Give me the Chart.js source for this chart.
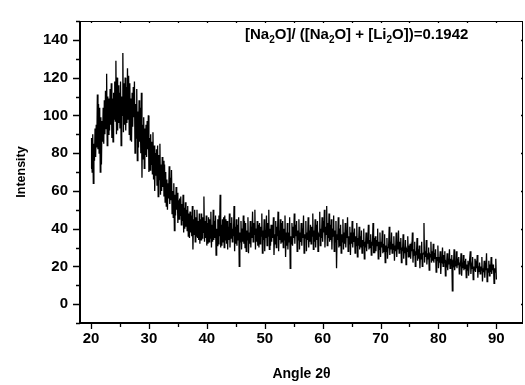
<!DOCTYPE html>
<html>
<head>
<meta charset="utf-8">
<script src="https://cdn.jsdelivr.net/npm/chart.js@4"></script>
<style>
  body { margin: 0; background: #fff; }
  #wrap { width: 525px; height: 385px; }
</style>
</head>
<body>
<div id="wrap"><canvas id="xrdChart" width="525" height="385"></canvas></div>
<script>
// scan grid: 20..90 deg, 0.1 deg step
const angleStart = 20;
const angleStep = 0.1;

// intensity, one row per degree
const intensity = [
  72, 88, 70, 90, 64, 85, 76, 93, 78, 95,
  83, 111, 82, 106, 80, 104, 70, 99, 74, 97,
  86, 104, 85, 108, 90, 113, 93, 122, 84, 110,
  90, 109, 92, 114, 95, 117, 88, 109, 86, 112,
  98, 118, 97, 129, 90, 120, 92, 116, 96, 112,
  93, 118, 84, 110, 100, 133, 91, 117, 95, 120,
  92, 115, 96, 125, 98, 121, 90, 117, 87, 109,
  86, 112, 94, 115, 99, 118, 80, 106, 88, 114,
  76, 102, 83, 108, 86, 104, 80, 112, 67, 95,
  77, 99, 72, 93, 79, 95, 78, 97, 82, 100,
  70, 88, 71, 90, 74, 86, 69, 91, 66, 84,
  60, 80, 68, 82, 63, 84, 57, 79, 66, 85,
  58, 74, 60, 78, 62, 76, 57, 74, 54, 70,
  52, 66, 50, 64, 56, 73, 53, 67, 55, 71,
  48, 60, 46, 64, 39, 58, 47, 62, 50, 59,
  43, 55, 45, 56, 47, 57, 42, 53, 44, 58,
  38, 51, 40, 54, 41, 50, 39, 52, 36, 48,
  35, 49, 38, 47, 36, 52, 29, 45, 37, 50,
  33, 46, 36, 50, 35, 44, 34, 48, 32, 45,
  34, 48, 35, 46, 38, 57, 33, 44, 35, 47,
  31, 43, 32, 46, 33, 45, 35, 49, 30, 42,
  33, 50, 34, 44, 35, 47, 26, 40, 31, 45,
  32, 47, 36, 58, 30, 42, 31, 45, 33, 46,
  30, 47, 34, 45, 32, 44, 29, 41, 34, 48,
  30, 43, 35, 46, 33, 40, 36, 52, 28, 41,
  32, 45, 31, 42, 34, 46, 20, 38, 33, 44,
  29, 40, 33, 47, 32, 44, 30, 43, 28, 39,
  34, 46, 27, 38, 32, 44, 30, 41, 35, 49,
  33, 43, 37, 50, 29, 40, 33, 44, 31, 42,
  30, 43, 32, 41, 36, 48, 27, 39, 34, 45,
  28, 39, 35, 47, 31, 43, 36, 50, 29, 40,
  31, 42, 33, 42, 35, 46, 26, 37, 32, 44,
  30, 41, 36, 49, 28, 39, 34, 45, 32, 43,
  33, 44, 30, 40, 34, 47, 25, 38, 31, 43,
  29, 38, 33, 46, 19, 36, 32, 43, 31, 41,
  35, 48, 32, 42, 36, 44, 28, 39, 34, 45,
  29, 38, 33, 43, 31, 40, 35, 47, 27, 37,
  35, 44, 28, 38, 34, 46, 30, 39, 33, 42,
  32, 41, 36, 48, 29, 39, 33, 45, 30, 42,
  34, 44, 28, 37, 36, 49, 31, 40, 35, 46,
  33, 44, 38, 50, 30, 41, 37, 52, 31, 43,
  35, 48, 33, 42, 34, 45, 29, 40, 36, 47,
  28, 39, 33, 44, 19, 37, 34, 46, 30, 40,
  31, 42, 27, 37, 33, 45, 29, 38, 32, 43,
  30, 39, 35, 46, 28, 36, 32, 41, 26, 38,
  32, 44, 30, 38, 33, 40, 27, 36, 31, 43,
  25, 35, 31, 41, 29, 36, 30, 39, 27, 34,
  31, 40, 24, 33, 30, 38, 28, 35, 32, 42,
  29, 34, 30, 37, 26, 33, 31, 43, 27, 35,
  27, 36, 28, 34, 31, 40, 24, 33, 29, 38,
  25, 33, 30, 39, 27, 32, 28, 37, 22, 31,
  28, 35, 24, 30, 31, 41, 26, 33, 29, 38,
  27, 32, 29, 36, 23, 31, 28, 38, 25, 33,
  29, 39, 27, 33, 29, 35, 22, 30, 28, 37,
  24, 30, 27, 34, 21, 29, 28, 36, 25, 31,
  25, 32, 24, 30, 28, 38, 22, 29, 26, 33,
  20, 28, 26, 35, 23, 29, 24, 31, 19, 27,
  24, 33, 20, 26, 27, 43, 22, 28, 25, 34,
  21, 27, 24, 30, 18, 26, 25, 33, 22, 28,
  23, 32, 22, 27, 24, 29, 17, 25, 23, 31,
  19, 25, 22, 28, 16, 24, 23, 30, 20, 26,
  22, 28, 15, 22, 21, 27, 18, 24, 21, 29,
  19, 24, 21, 26, 7, 22, 21, 29, 18, 23,
  20, 28, 19, 23, 21, 25, 16, 22, 20, 27,
  15, 22, 19, 26, 18, 23, 19, 24, 14, 21,
  18, 23, 15, 20, 20, 28, 16, 21, 19, 25,
  13, 20, 18, 24, 17, 21, 19, 26, 14, 20,
  17, 22, 16, 20, 18, 25, 12, 19, 17, 23,
  14, 20, 18, 27, 12, 19, 17, 23, 15, 21,
  17, 25, 16, 20, 18, 21, 11, 19, 17, 24,
  13
];

const xTicks = [20, 30, 40, 50, 60, 70, 80, 90];
const xMinor = [25, 35, 45, 55, 65, 75, 85];
const yTicks = [0, 20, 40, 60, 80, 100, 120, 140];
const yMinor = [-10, 10, 30, 50, 70, 90, 110, 130, 150];

const points = intensity.map((v, i) => ({
    x: +(angleStart + i * angleStep).toFixed(2),
    y: v
}));

const FONT = '"Liberation Sans", Arial, sans-serif';

// axes box + tick marks (major / minor)
const framePlugin = {
    id: 'frame',
    afterDraw(chart) {
        const { ctx, chartArea: a, scales } = chart;
        const xs = scales.x, ys = scales.y;
        ctx.save();
        ctx.strokeStyle = '#000';

        ctx.lineWidth = 1;
        ctx.beginPath();
        ctx.moveTo(a.left, a.top + 0.5);
        ctx.lineTo(a.right, a.top + 0.5);
        ctx.moveTo(a.right - 0.5, a.top);
        ctx.lineTo(a.right - 0.5, a.bottom);
        ctx.stroke();

        ctx.lineWidth = 2;
        ctx.beginPath();
        ctx.moveTo(a.left, a.top);
        ctx.lineTo(a.left, a.bottom + 1);
        ctx.moveTo(a.left - 1, a.bottom);
        ctx.lineTo(a.right, a.bottom);
        ctx.stroke();

        ctx.lineWidth = 1.3;
        ctx.beginPath();
        xTicks.forEach(v => {
            const px = Math.round(xs.getPixelForValue(v)) + 0.5;
            ctx.moveTo(px, a.bottom); ctx.lineTo(px, a.bottom + 6);
            ctx.moveTo(px, a.top); ctx.lineTo(px, a.top + 2);
        });
        xMinor.forEach(v => {
            const px = Math.round(xs.getPixelForValue(v)) + 0.5;
            ctx.moveTo(px, a.bottom); ctx.lineTo(px, a.bottom + 4);
            ctx.moveTo(px, a.top); ctx.lineTo(px, a.top + 2);
        });
        yTicks.forEach(v => {
            const py = Math.round(ys.getPixelForValue(v)) + 0.5;
            ctx.moveTo(a.left, py); ctx.lineTo(a.left - 7, py);
            ctx.moveTo(a.right, py); ctx.lineTo(a.right - 2, py);
        });
        yMinor.forEach(v => {
            const py = Math.round(ys.getPixelForValue(v)) + 0.5;
            ctx.moveTo(a.left, py); ctx.lineTo(a.left - 4, py);
        });
        ctx.stroke();
        ctx.restore();
    }
};

// composition label with subscripts
const labelPlugin = {
    id: 'compLabel',
    afterDraw(chart) {
        const ctx = chart.ctx;
        const parts = [
            ['[Na', false], ['2', true], ['O]/ ([Na', false], ['2', true],
            ['O] + [Li', false], ['2', true], ['O])=0.1942', false]
        ];
        let x = 245;
        const base = 39;
        ctx.save();
        ctx.fillStyle = '#000';
        ctx.textBaseline = 'alphabetic';
        parts.forEach(([t, sub]) => {
            ctx.font = sub ? 'bold 10px ' + FONT : 'bold 15px ' + FONT;
            ctx.fillText(t, x, sub ? base + 4 : base);
            x += ctx.measureText(t).width;
        });
        ctx.restore();
    }
};

new Chart(document.getElementById('xrdChart'), {
    type: 'line',
    data: {
        datasets: [{
            data: points,
            borderColor: '#000',
            borderWidth: 1.3,
            pointRadius: 0,
            tension: 0,
            fill: false
        }]
    },
    options: {
        responsive: false,
        animation: false,
        devicePixelRatio: 1,
        layout: { padding: { top: 7, right: 2, left: 0, bottom: 0 } },
        plugins: {
            legend: { display: false },
            tooltip: { enabled: false }
        },
        scales: {
            x: {
                type: 'linear',
                min: 18.1,
                max: 94.6,
                afterFit: s => { s.height = 62; },
                afterBuildTicks: s => { s.ticks = xTicks.map(v => ({ value: v })); },
                grid: { display: false, drawTicks: false },
                border: { display: false },
                ticks: {
                    padding: 7,
                    maxRotation: 0,
                    color: '#000',
                    font: { family: FONT, size: 15, weight: 'bold' }
                },
                title: {
                    display: true,
                    text: 'Angle 2θ',
                    color: '#000',
                    padding: { top: 0, bottom: 2 },
                    font: { family: FONT, size: 14, weight: 'bold' }
                }
            },
            y: {
                min: -10,
                max: 150,
                afterFit: s => { s.width = 80; },
                afterBuildTicks: s => { s.ticks = yTicks.map(v => ({ value: v })); },
                grid: { display: false, drawTicks: false },
                border: { display: false },
                ticks: {
                    padding: 12,
                    color: '#000',
                    font: { family: FONT, size: 15, weight: 'bold' }
                },
                title: {
                    display: true,
                    text: 'Intensity',
                    color: '#000',
                    padding: { top: 14, bottom: 0 },
                    font: { family: FONT, size: 12.5, weight: 'bold' }
                }
            }
        }
    },
    plugins: [framePlugin, labelPlugin]
});
</script>
</body>
</html>
